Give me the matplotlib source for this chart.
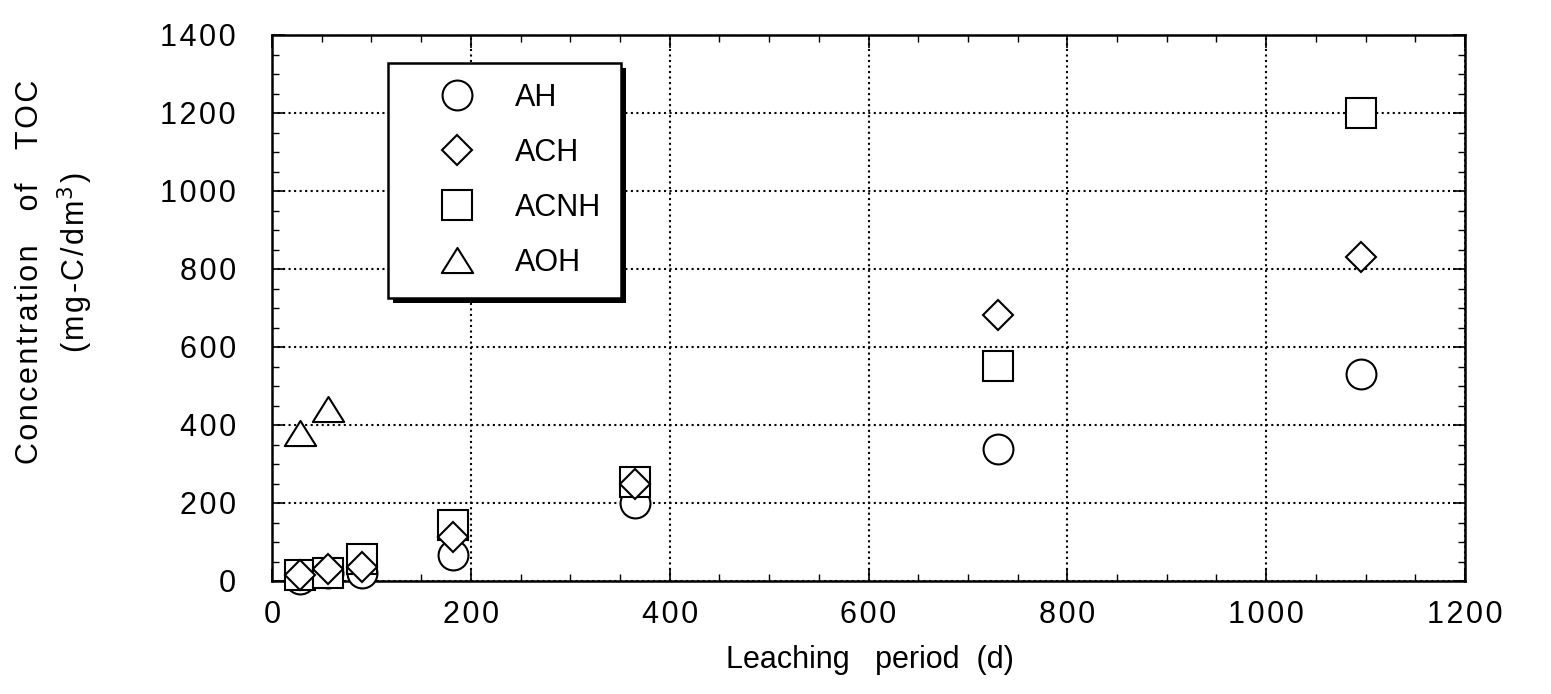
import matplotlib
matplotlib.use("Agg")
import matplotlib.pyplot as plt
from matplotlib.ticker import MultipleLocator
from matplotlib.patches import Rectangle
from matplotlib.path import Path

# ---- data ----
days = [28, 56, 91, 182, 365, 730, 1095]
AH = [5, 20, 20, 67, 200, 339, 532]
ACH = [15, 30, 36, 113, 250, 681, 830]
ACNH = [15, 20, 56, 143, 253, 551, 1200]
AOH_days = [28, 56]
AOH = [380, 440]

series_labels = ["AH", "ACH", "ACNH", "AOH"]
xticks = [0, 200, 400, 600, 800, 1000, 1200]
yticks = [0, 200, 400, 600, 800, 1000, 1200, 1400]

plt.rcParams['font.family'] = ['Liberation Sans', 'DejaVu Sans']


def spaced(s):
    hs = "\u200a"
    return hs.join(list(s))


fig = plt.figure(figsize=(15.51, 6.94), dpi=100)
ax = fig.add_axes([272/1551, 1 - 581/694, (1465-272)/1551, (581-35)/694])

tri = Path([(0, 0.8), (-1, -0.8), (1, -0.8), (0, 0.8)],
           [Path.MOVETO, Path.LINETO, Path.LINETO, Path.CLOSEPOLY])

common = dict(linestyle='none', markerfacecolor='white', markeredgecolor='black',
              markeredgewidth=1.5, zorder=5, clip_on=False)
ms = 21.5
h1, = ax.plot(days, AH, marker='o', markersize=ms, label=series_labels[0], **common)
h3, = ax.plot(days, ACNH, marker='s', markersize=ms, label=series_labels[2], **common)
h2, = ax.plot(days, ACH, marker='D', markersize=ms/1.414, label=series_labels[1], **common)
h4, = ax.plot(AOH_days, AOH, marker=tri, markersize=ms*1.05, label=series_labels[3], **common)

ax.set_xlim(0, 1200)
ax.set_ylim(0, 1400)
ax.set_xticks(xticks)
ax.set_yticks(yticks)
ax.set_xticklabels([spaced(str(v)) for v in xticks])
ax.set_yticklabels([spaced(str(v)) for v in yticks])
ax.xaxis.set_minor_locator(MultipleLocator(50))
ax.yaxis.set_minor_locator(MultipleLocator(50))
ax.tick_params(which='both', direction='in', top=True, right=True, color='black')
ax.tick_params(which='major', length=9, width=1.2)
ax.tick_params(which='minor', length=5, width=1.0)
ax.tick_params(axis='x', labelsize=22, pad=14)
ax.tick_params(axis='y', labelsize=22, pad=26)
for s in ax.spines.values():
    s.set_linewidth(1.8)
ax.grid(True, which='major', linestyle=':', color='black', linewidth=1.5)
ax.set_axisbelow(True)

fig.text(870/1551, 1 - 660/694, "Leaching   period  (d)", ha='center', va='center', fontsize=22)
fig.text(30/1551, 1 - 272/694, spaced("Concentration") + "    " + spaced("of") + "    " + spaced("TOC"),
         ha='center', va='center', rotation=90, fontsize=22)
fig.text(75/1551, 1 - 262/694, spaced("(mg-C/dm") + "$^3$" + "\u200a)", ha='center', va='center',
         rotation=90, fontsize=22)

leg = ax.legend(handles=[h1, h2, h3, h4], loc='upper left',
                bbox_to_anchor=((388-272)/(1465-272), (581-63)/(581-35)),
                fontsize=22, frameon=True, fancybox=False, edgecolor='black',
                framealpha=1, borderpad=0.65, labelspacing=0.82, handletextpad=0.3,
                handlelength=3.2, borderaxespad=0)
leg.get_frame().set_linewidth(1.8)
leg.set_zorder(10)

fig.canvas.draw()
bb = leg.get_window_extent()
off = 5
shadow = Rectangle((bb.x0 + off, bb.y0 - off), bb.width, bb.height,
                   transform=None, facecolor='black', edgecolor='none', zorder=9,
                   clip_on=False)
ax.add_artist(shadow)

fig.savefig("out.png", dpi=100)
